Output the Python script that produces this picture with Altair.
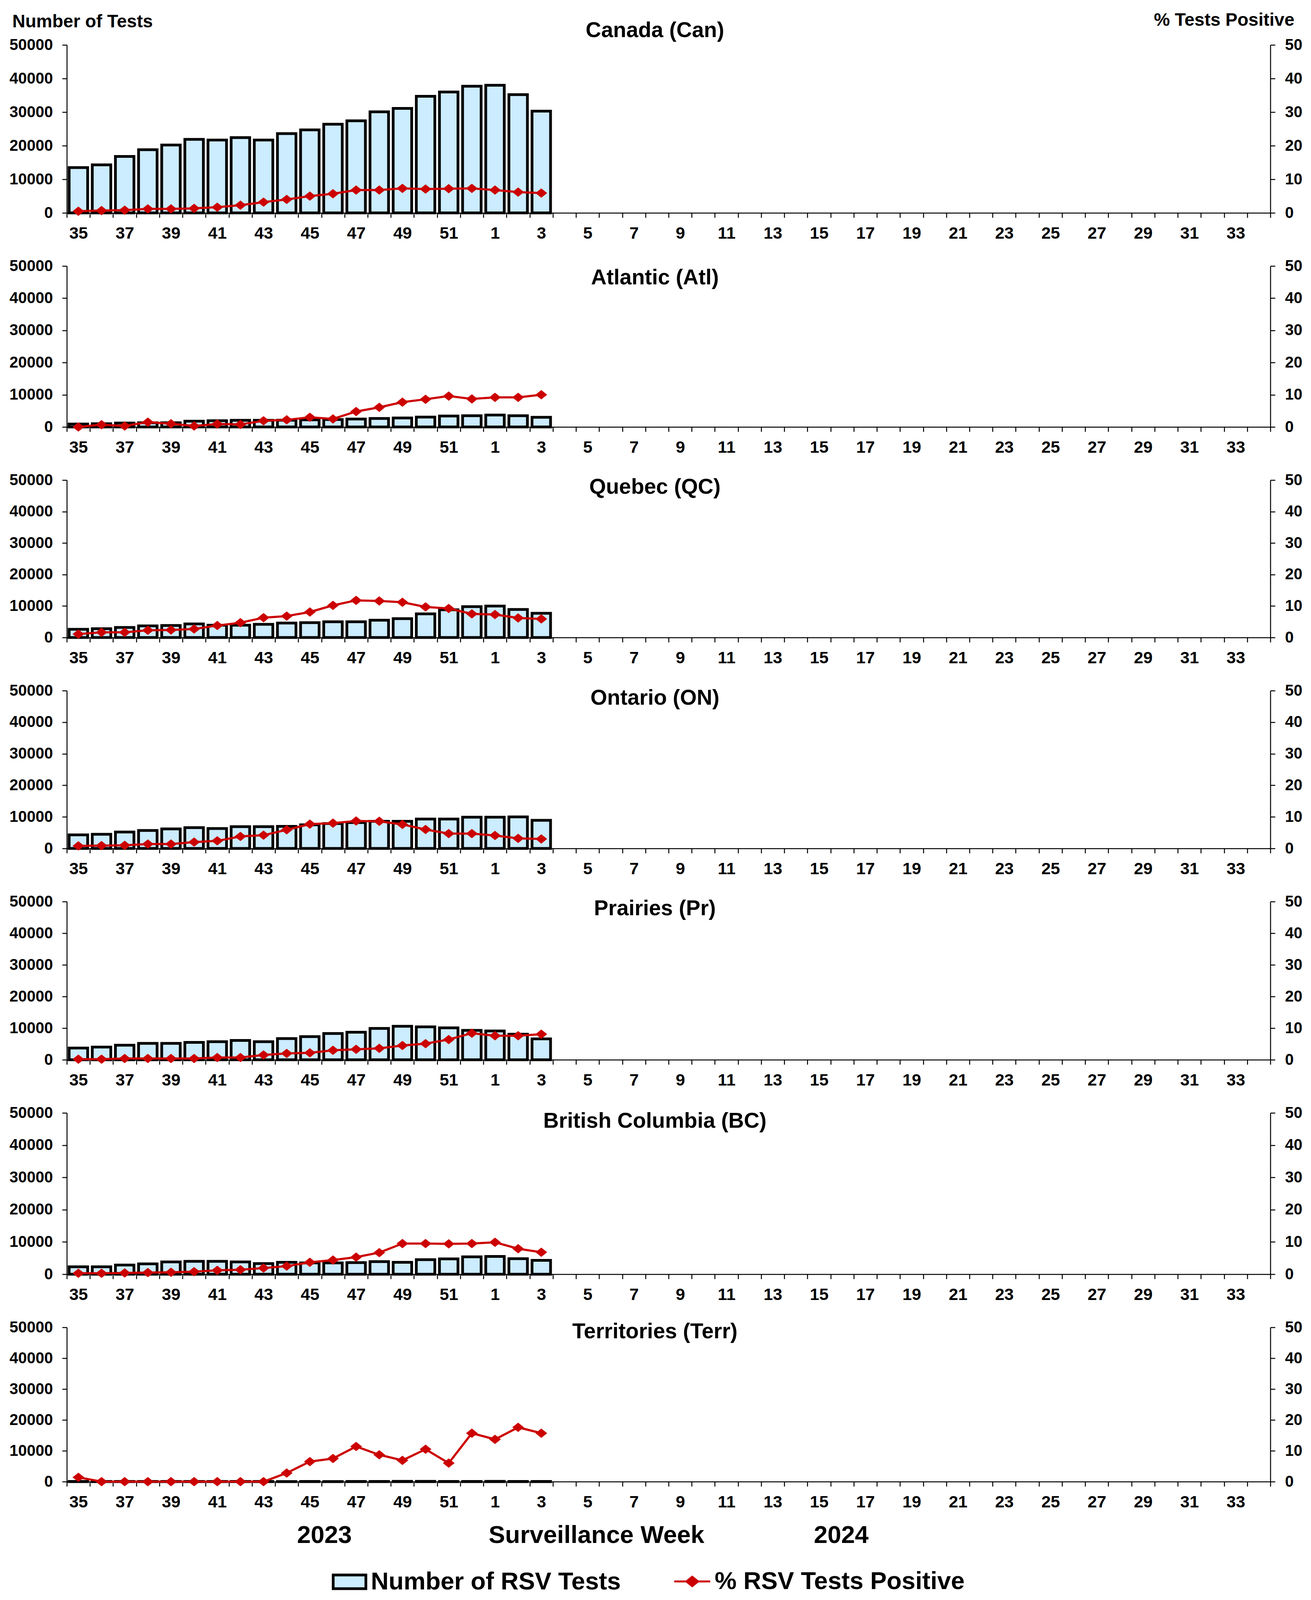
import altair as alt
import pandas as pd

FONT = "Liberation Sans"
BLUE = "#CCECFF"
RED = "#CC0000"

# Surveillance weeks on the axis (2023 week 35 .. 2024 week 34)
all_weeks = list(range(35, 53)) + list(range(1, 35))
# Weeks with data
data_weeks = list(range(35, 53)) + [1, 2, 3]

regions = ["Canada (Can)", "Atlantic (Atl)", "Quebec (QC)", "Ontario (ON)",
           "Prairies (Pr)", "British Columbia (BC)", "Territories (Terr)"]

can_tests = [13500, 14300, 16800, 18800, 20200, 21900, 21700, 22400, 21700, 23600, 24700,
             26400, 27400, 30100, 31100, 34700, 36000, 37700, 38000, 35200, 30300]
can_pct = [0.5, 0.7, 0.8, 1.2, 1.2, 1.35, 1.7, 2.3, 3.2, 4.0, 5.0, 5.7, 6.8, 6.8, 7.3,
           7.1, 7.2, 7.3, 6.8, 6.2, 5.9]

atl_tests = [900, 1000, 1200, 1300, 1300, 1800, 1950, 2050, 2050, 2100, 2200, 2300, 2450,
             2650, 2800, 3050, 3400, 3500, 3700, 3500, 3000]
atl_pct = [0.0, 0.7, 0.3, 1.5, 1.0, 0.3, 0.9, 0.8, 1.9, 2.2, 3.0, 2.5, 4.8, 6.1, 7.7,
           8.6, 9.6, 8.7, 9.2, 9.2, 10.0]

qc_tests = [2600, 2800, 3200, 3700, 3800, 4300, 3900, 3900, 4200, 4600, 4700, 5000, 5000,
            5500, 6000, 7500, 8800, 9800, 10000, 8900, 7700]
qc_pct = [1.1, 1.65, 1.65, 2.3, 2.4, 2.7, 3.8, 4.7, 6.3, 6.8, 8.1, 10.2, 11.8, 11.6, 11.2,
          9.7, 9.2, 7.5, 7.3, 6.2, 5.9]

on_tests = [4300, 4500, 5200, 5700, 6200, 6600, 6300, 6900, 6900, 7000, 7500, 7900, 8200,
            8600, 8600, 9300, 9300, 9900, 9900, 10000, 8900]
on_pct = [0.8, 0.9, 1.0, 1.4, 1.4, 2.0, 2.4, 3.8, 4.2, 5.9, 7.7, 8.0, 8.7, 8.6, 7.6,
          6.0, 4.7, 4.7, 4.1, 3.2, 3.0]

pr_tests = [3700, 4000, 4600, 5200, 5200, 5500, 5700, 6100, 5700, 6700, 7300, 8300, 8700,
            9900, 10600, 10400, 10100, 9300, 9100, 8100, 6600]
pr_pct = [0.2, 0.2, 0.4, 0.4, 0.4, 0.4, 0.7, 0.7, 1.5, 2.0, 2.2, 3.0, 3.3, 3.6, 4.5,
          5.1, 6.4, 8.4, 7.6, 7.6, 8.1]

bc_tests = [2300, 2300, 2850, 3200, 3800, 4000, 4000, 3800, 3300, 3700, 3500, 3500, 3600,
            3900, 3700, 4500, 4750, 5400, 5500, 4800, 4300]
bc_pct = [0.3, 0.3, 0.4, 0.5, 0.6, 0.8, 1.2, 1.4, 1.9, 2.5, 3.7, 4.4, 5.3, 6.7, 9.5,
          9.5, 9.4, 9.5, 9.9, 7.9, 6.8]

terr_tests = [60, 50, 50, 55, 60, 55, 55, 60, 55, 45, 50, 45, 50, 60, 80, 85, 75, 65,
              80, 60, 60]
terr_pct = [1.4, 0.0, 0.0, 0.0, 0.0, 0.0, 0.0, 0.0, 0.0, 2.8, 6.5, 7.5, 11.4, 8.7, 6.9,
            10.5, 6.0, 15.7, 13.7, 17.6, 15.7]

tests = [can_tests, atl_tests, qc_tests, on_tests, pr_tests, bc_tests, terr_tests]
pcts = [can_pct, atl_pct, qc_pct, on_pct, pr_pct, bc_pct, terr_pct]

left_ticks = [0, 10000, 20000, 30000, 40000, 50000]
right_ticks = [0, 10, 20, 30, 40, 50]

SERIES_BARS = "Number of RSV Tests"
SERIES_LINE = "% RSV Tests Positive"

# layout / style (fitted to the visible page area)
PLOT_W = 3080
heights = [430, 412, 403, 404, 405, 413, 395]
SPACING = 136
title_y = [-20.5, 47, 35, 36, 35, 38, 28]   # panel title baseline relative to plot top

DIAMOND = "M-1,0L0,-0.8L1,0L0,0.8Z"
BOX = "M-0.95,-0.4L0.95,-0.4L0.95,0.4L-0.95,0.4Z"
LINE_DIAMOND = "M-1,0L1,0M-0.326,0L0,-0.26L0.326,0L0,0.26Z"

x_title = "2023" + "\u00a0" * 20 + "Surveillance Week" + "\u00a0" * 16 + "2024"


def make_panel(i):
    first = i == 0
    last = i == len(regions) - 1
    df = pd.DataFrame({"week": data_weeks, "tests": tests[i], "pct": pcts[i],
                       "s1": SERIES_BARS, "s2": SERIES_LINE})
    base = alt.Chart(df)

    xaxis_kw = dict(labelExpr="datum.value % 2 == 1 ? datum.label : ''", labelAngle=0,
                    tickBand="extent", labelFontSize=43, labelPadding=19, tickSize=12)
    if last:
        xaxis = alt.Axis(title=x_title, titleFontSize=63, titleX=1320, titleY=156,
                         titleAlign="center", titleBaseline="alphabetic", **xaxis_kw)
    else:
        xaxis = alt.Axis(title=None, **xaxis_kw)
    xenc = alt.X("week:O", scale=alt.Scale(domain=all_weeks, paddingInner=0, paddingOuter=0),
                 axis=xaxis)

    laxis_kw = dict(orient="left", values=left_ticks, format="d", labelFontSize=40,
                    tickSize=12, labelPadding=24)
    raxis_kw = dict(orient="right", values=right_ticks, format="d", labelFontSize=40,
                    tickSize=12, labelPadding=25)
    if first:
        laxis = alt.Axis(title="Number of Tests", titleAngle=0, titleAlign="left",
                         titleBaseline="alphabetic", titleX=-140, titleY=-46,
                         titleFontSize=46, **laxis_kw)
        raxis = alt.Axis(title="% Tests Positive", titleAngle=0, titleAlign="right",
                         titleBaseline="alphabetic", titleX=61, titleY=-50,
                         titleFontSize=46, **raxis_kw)
    else:
        laxis = alt.Axis(title=None, **laxis_kw)
        raxis = alt.Axis(title=None, **raxis_kw)

    yl = alt.Y("tests:Q", scale=alt.Scale(domain=[0, 50000], nice=False), axis=laxis)
    yr = alt.Y("pct:Q", scale=alt.Scale(domain=[0, 50], nice=False), axis=raxis)

    bar_kw = dict(width=alt.RelativeBandSize(0.8), stroke="black", strokeWidth=7)
    if last:
        leg1 = alt.Legend(title=None, orient="none", legendX=676, legendY=604,
                          direction="horizontal", symbolType=BOX, symbolSize=7744,
                          symbolStrokeColor="black", symbolStrokeWidth=7,
                          labelFontSize=63, labelFont=FONT, labelFontWeight="bold",
                          labelColor="black", labelOffset=7, labelLimit=2000, padding=0)
        bars = base.mark_bar(**bar_kw).encode(
            x=xenc, y=yl,
            color=alt.Color("s1:N", scale=alt.Scale(domain=[SERIES_BARS], range=[BLUE]),
                            legend=leg1))
    else:
        bars = base.mark_bar(fill=BLUE, **bar_kw).encode(x=xenc, y=yl)

    line = base.mark_line(color=RED, strokeWidth=5.5).encode(x=xenc, y=yr)
    if last:
        leg2 = alt.Legend(title=None, orient="none", legendX=1552, legendY=602,
                          direction="horizontal", symbolType=LINE_DIAMOND, symbolSize=8464,
                          symbolStrokeWidth=5, symbolStrokeColor=RED, symbolFillColor=RED,
                          labelFontSize=63, labelFont=FONT, labelFontWeight="bold",
                          labelColor="black", labelOffset=9, labelLimit=2000, padding=0)
        pscale = alt.Scale(domain=[SERIES_LINE], range=[RED])
        points = base.mark_point(shape=DIAMOND, size=900, filled=True, opacity=1,
                                 strokeWidth=0).encode(
            x=xenc, y=yr,
            fill=alt.Fill("s2:N", scale=pscale, legend=leg2),
            stroke=alt.Stroke("s2:N", scale=pscale, legend=leg2))
    else:
        points = base.mark_point(shape=DIAMOND, size=900, filled=True, fill=RED,
                                 opacity=1, strokeWidth=0).encode(x=xenc, y=yr)

    title_df = pd.DataFrame({"name": [regions[i]]})
    title_layer = alt.Chart(title_df).mark_text(
        font=FONT, fontSize=55, fontWeight="bold", color="black", align="center",
        baseline="alphabetic").encode(
        text="name:N", x=alt.value(PLOT_W / 2 - 35), y=alt.value(title_y[i]))

    right = alt.layer(line, points)
    panel = alt.layer(bars, right, title_layer).resolve_scale(y="independent").properties(
        width=PLOT_W, height=heights[i])
    return panel


panels = [make_panel(i) for i in range(len(regions))]

chart = alt.vconcat(*panels, spacing=SPACING, bounds="flush").resolve_scale(
    color="independent", fill="independent", stroke="independent"
).properties(
    padding={"left": 15, "top": 19, "right": 10, "bottom": 0},
    background="white",
).configure(font=FONT).configure_view(stroke="transparent").configure_axis(
    domainColor="black", domainWidth=2.5, tickColor="black", tickWidth=2.5,
    labelColor="black", labelFont=FONT, labelFontWeight="bold",
    titleFont=FONT, titleFontWeight="bold", titleColor="black", grid=False,
)

chart.save("out.html", embed_options={"renderer": "svg", "actions": False})
